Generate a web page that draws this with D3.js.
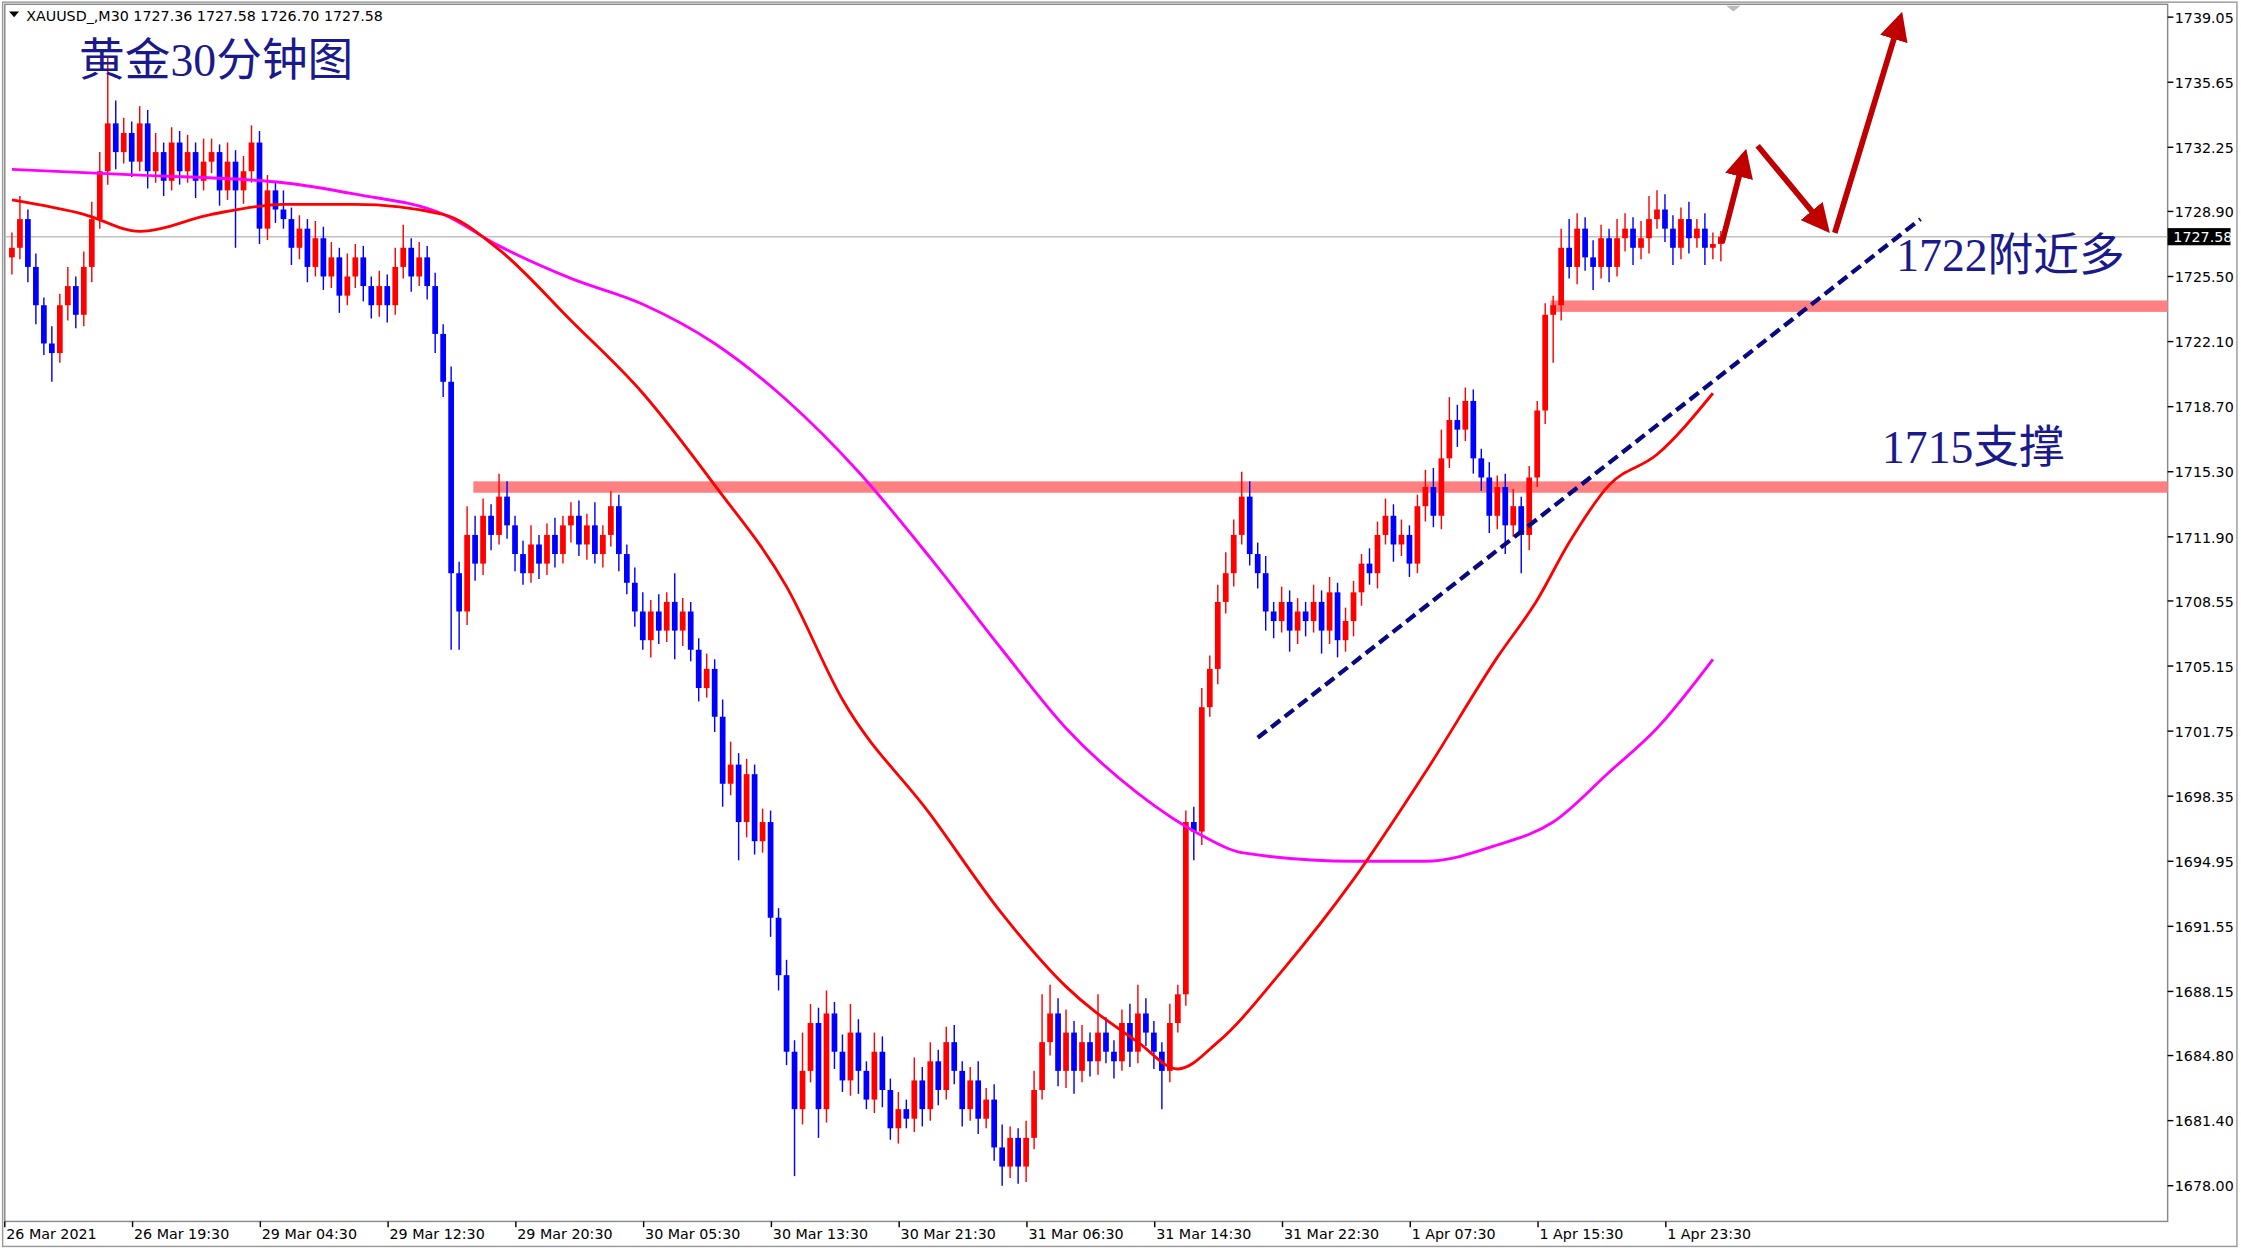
<!DOCTYPE html><html><head><meta charset="utf-8"><script src="https://cdn.jsdelivr.net/npm/d3@7"></script>
<style>body{margin:0;background:#fff}svg{display:block}</style></head><body><svg id="c" width="2241" height="1250" viewBox="0 0 1568 875"></svg>
<script>
const closes=[1727,1728.5,1726,1724,1722,1721.5,1724,1725,1723.5,1726,1728.5,
1731,1733.5,1732,1733,1731.5,1733.5,
1731,1732,1730.5,1732.5,1731,1732,1730.5,1731.5,1732,1730,1731.5,1730,1731,1732.5,
1728,1730,1729,1728.5,1727,1728,1726,1727.5,1725.5,1726.5,1724.5,1725.5,1726.5,1725,1724,
1725,1724,1726,1727,1725.5,1726.5,1725,1722.5,
1720,1710,1708,
1712,1710.5,1713,1712,1714,1712.5,1711,1710,1711.5,1710.5,1712,1711,1712.5,1713,1711.5,1712.5,1711,1712,1713.5,1711,
1709.5,1708,1706.5,1708,1707,1708.5,1707,1708,1706,1704,1705,1702.5,
1699,1700,1697,1699.5,1696,1697,1692,1689,1685,1682,
1684,1686.5,1682,1687,1685,1683.5,1686,1684,1682.5,1685,1683,1681,1682,1681.5,1683.5,1682,1684.5,1683,1685.5,1684,1682,1683.5,1681.5,1682.5,1680,1679,1680.5,1679,1680.5,1683,1685.5,1687,1684,
1686,1684,1685.5,1684.5,1686,1685,1684.5,1686.5,1685,1687,1686,1685,1684,1686.5,1688,
1697,1696.5,1703,1705,1708.5,1710,1712,1714,1711,
1710,1708,1707.5,1708.5,1707,1708,1707.5,1708.5,1707,1709,1706.5,1707.5,1709,
1710.5,1710,1712,1713,1711.5,1712,1710.5,1713.5,1714.5,1713,1716,1718,1717.5,1719,1716,1715,
1713,1714.5,1712.5,1713.5,1712,1715,
1718.5,1723.5,1724,
1727,1726,1728,1726.5,1726,1727.5,1726,1727.5,1728,1727,1727.5,1728.5,1729,1728,1727,1728.5,1727.5,1728,1727,1727.2,1727.58];
const firstOpen=1726.5;
const wickUp=[0.8,1.2,0.5,0.7,0.4,0.9,0.6,1.0,0.5,0.8,0.9, 1.0,3.5,1.2,0.8,0.6,0.9, 0.7,1.0,0.5,0.8,0.6,0.9,0.5,1.2,0.7,0.4,1.0,0.6,0.8,0.9,
0.6,0.8,0.5,1.0,0.6,0.7,0.5,0.9,0.6,0.8,0.5,1.2,0.7,0.6,0.5, 0.8,0.6,1.0,1.2,0.5,0.8,0.6,0.7, 0.5,0.8,0.6,
1.5,1.0,0.9,0.6,1.2,0.8,0.5,0.7,1.0,0.5,0.6,0.9,0.5,0.7,0.8,0.6,1.2,0.5,0.8,0.6,
0.5,0.8,1.0,0.6,0.9,0.5,1.5,0.7,0.5,0.6,0.8,0.5, 0.9,1.2,0.6,0.8,0.5,0.7,0.6,0.5,0.8,0.6,
2.0,1.0,0.8,1.2,0.6,0.9,1.5,0.7,0.5,1.0,0.8,0.6,0.9,0.5,1.2,0.7,1.0,0.6,0.8,0.9,0.5,0.7,1.0,0.6,0.8,1.2,0.6,0.5,0.9,1.0,2.5,1.5,0.8,
1.2,0.6,0.9,0.5,2.0,0.8,0.6,0.7,1.0,1.5,0.8,0.6,0.5,1.0,0.5,
0.6,0.8,1.0,0.7,0.9,1.1,0.8,1.3,0.8, 0.6,0.9,0.5,0.8,0.6,0.7,0.5,0.9,0.6,0.8,0.5,0.7,0.6,
0.5,0.8,0.7,0.9,0.6,0.8,0.5,0.6,0.9,1.0,1.5,1.2,0.8,0.7,0.6,0.5, 0.8,0.6,0.7,0.9,0.5,0.6, 0.5,0.6,0.5,
1.0,1.5,0.8,0.6,0.9,0.7,0.5,1.0,0.8,0.6,0.9,1.2,1.0,0.8,0.7,0.6,0.9,0.5,0.8,0.6,0.3];
const wickDn=[0.9,0.6,0.8,1.0,0.6,1.5,0.5,0.8,0.7,0.6,0.8, 0.5,0.7,0.9,0.6,0.8,0.5, 0.9,0.6,0.8,0.5,0.7,0.6,0.9,0.5,0.6,0.8,0.5,3.0,0.7,0.6,
0.8,0.6,0.7,0.5,0.9,0.6,0.8,0.5,0.7,0.6,0.9,0.5,0.6,0.8,0.7, 0.6,0.9,0.5,0.6,0.8,0.5,0.7,1.0, 0.8,4.0,2.0,
0.7,0.9,0.6,0.8,0.5,0.7,0.9,0.6,0.5,0.8,0.6,0.7,0.5,0.9,0.6,0.8,0.5,0.7,0.6,0.9,
0.6,0.8,0.5,0.9,0.7,0.6,1.5,0.8,0.6,0.7,0.5,0.8, 1.2,0.6,2.0,0.8,0.7,0.6,1.0,0.8,0.7,3.5,
0.8,0.6,1.5,0.7,0.9,0.6,0.8,1.2,0.5,0.7,0.9,0.6,0.8,0.5,0.7,0.9,0.6,0.8,0.5,0.7,0.9,0.6,0.8,0.5,0.7,1.0,0.6,0.9,0.8,0.6,0.5,0.7,0.8,
0.9,1.2,0.6,0.8,0.7,0.6,0.9,0.5,0.8,0.6,0.7,0.9,2.0,0.6,0.5,
0.6,1.5,0.7,0.5,0.8,0.6,0.7,0.5,0.6, 0.8,1.0,0.9,0.6,1.1,0.7,0.8,0.6,1.2,0.7,0.9,0.6,0.8,
0.7,0.6,0.8,0.5,0.9,0.6,0.7,0.5,0.8,0.6,0.7,0.5,0.9,0.6,0.8,0.7, 0.9,0.7,1.5,0.6,2.0,0.8, 0.5,0.7,2.5,
0.8,0.6,0.9,0.7,1.2,0.6,0.8,0.5,0.7,0.9,0.6,0.8,0.5,0.7,0.9,0.6,0.8,0.5,0.9,0.6,0.9];
const maFastIdx=[0,9,16,25,34,43,54,61,70,79,88,97,104,115,124,132,141,146,151,159,168,177,186,191,195,200,206,213];
const maFastVal=[1729.5,1728.75,1727.86,1728.75,1729.27,1729.27,1728.75,1726.9,1723.2,1719.4,1714.6,1709.3,1703.4,1697.4,1692.2,1688.4,1685.5,1684.1,1685.5,1689.2,1694.0,1699.6,1705.6,1708.6,1711.6,1714.6,1716.2,1719.4];
const maSlowIdx=[0,16,34,43,54,61,70,79,88,97,106,115,124,132,141,149,154,168,177,186,193,200,206,213];
const maSlowVal=[1731.1,1730.8,1730.4,1729.8,1728.75,1727.1,1725.4,1724.05,1722.0,1719.05,1715.3,1710.8,1706.0,1701.9,1698.5,1696.3,1695.4,1694.95,1694.95,1695.8,1697.0,1699.6,1701.9,1705.5];
const yTicks=["1739.05","1735.65","1732.25","1728.90","1725.50","1722.10","1718.70","1715.30","1711.90","1708.55","1705.15","1701.75","1698.35","1694.95","1691.55","1688.15","1684.80","1681.40","1678.00"];
const xLabels=["26 Mar 2021","26 Mar 19:30","29 Mar 04:30","29 Mar 12:30","29 Mar 20:30","30 Mar 05:30","30 Mar 13:30","30 Mar 21:30","31 Mar 06:30","31 Mar 14:30","31 Mar 22:30","1 Apr 07:30","1 Apr 15:30","1 Apr 23:30"];
const xLabelIdx=[0,16,32,48,64,80,96,112,128,144,160,176,192,208];
const levels=[1714.5,1723.95];
const last=1727.58;

const svg=d3.select("#c");
const x=d3.scaleLinear().domain([0,214]).range([8,8+5.59*214]);
const y=d3.scaleLinear().domain([1678.00,1739.05]).range([830,12]);
const font="Tahoma, 'DejaVu Sans', sans-serif";
svg.append("rect").attr("x",1.5).attr("y",1.5).attr("width",1564).attr("height",871).attr("fill","none").attr("stroke","#999");
svg.append("rect").attr("x",3).attr("y",3).attr("width",1514).attr("height",852).attr("fill","none").attr("stroke","#888");
svg.append("rect").attr("x",331).attr("width",1517-331).attr("y",y(levels[0])-4).attr("height",8).attr("fill","#ff8080");
svg.append("rect").attr("x",1085).attr("width",1517-1085).attr("y",y(levels[1])-4).attr("height",8).attr("fill","#ff8080");
svg.append("line").attr("x1",3).attr("x2",1517).attr("y1",y(last)).attr("y2",y(last)).attr("stroke","#c0c0c0");
const bars=closes.map((c,i)=>{const o=i?closes[i-1]:firstOpen;return{i,o,c,h:Math.max(o,c)+wickUp[i],l:Math.min(o,c)-wickDn[i]};});
const g=svg.append("g");
bars.forEach(b=>{const col=b.c>=b.o?"#ff0000":"#0000ff";
 g.append("line").attr("x1",x(b.i)).attr("x2",x(b.i)).attr("y1",y(b.h)).attr("y2",y(b.l)).attr("stroke",col).attr("stroke-width",1);
 const t=y(Math.max(b.o,b.c)),bt=y(Math.min(b.o,b.c));
 g.append("rect").attr("x",x(b.i)-2).attr("width",4).attr("y",t).attr("height",Math.max(1,bt-t)).attr("fill",col);});
const line=d3.line().x(d=>x(d[0])).y(d=>y(d[1])).curve(d3.curveMonotoneX);
svg.append("path").attr("d",line(maSlowIdx.map((d,i)=>[d,maSlowVal[i]]))).attr("fill","none").attr("stroke","#ff00ff").attr("stroke-width",2);
svg.append("path").attr("d",line(maFastIdx.map((d,i)=>[d,maFastVal[i]]))).attr("fill","none").attr("stroke","#ff0000").attr("stroke-width",2);
svg.append("line").attr("x1",x(156)).attr("y1",y(1701.4)).attr("x2",x(239)).attr("y2",y(1728.5)).attr("stroke","#0a0a80").attr("stroke-width",3).attr("stroke-dasharray","8,4");
const defs=svg.append("defs");
defs.append("marker").attr("id","ah").attr("viewBox","0 0 10 10").attr("refX",8).attr("refY",5).attr("markerWidth",5).attr("markerHeight",5).attr("orient","auto")
 .append("path").attr("d","M0,0L10,5L0,10z").attr("fill","#c00000");
[[[1205,170],[1221,108]],[[1230,102],[1278,160]],[[1284,163],[1330,12]]].forEach(a=>{
 svg.append("line").attr("x1",a[0][0]).attr("y1",a[0][1]).attr("x2",a[1][0]).attr("y2",a[1][1]).attr("stroke","#c00000").attr("stroke-width",4).attr("marker-end","url(#ah)");});
const serif="'Liberation Serif','Noto Sans CJK SC',serif";
svg.append("text").attr("x",55).attr("y",53).attr("font-family",serif).attr("font-size",32).attr("fill","#1a1a8c").text("黄金30分钟图");
svg.append("text").attr("x",1327).attr("y",190).attr("font-family",serif).attr("font-size",32).attr("fill","#1a1a8c").text("1722附近多");
svg.append("text").attr("x",1317).attr("y",324).attr("font-family",serif).attr("font-size",32).attr("fill","#1a1a8c").text("1715支撑");
svg.append("text").attr("x",18).attr("y",15).attr("font-family",font).attr("font-size",10).attr("fill","#000").text("XAUUSD_,M30  1727.36 1727.58 1726.70 1727.58");
svg.append("path").attr("d","M6,8L13,8L9.5,12z").attr("fill","#000");
svg.append("path").attr("d","M1208,4L1218,4L1213,8z").attr("fill","#bbb");
yTicks.forEach(t=>{const v=+t;svg.append("line").attr("x1",1517).attr("x2",1521).attr("y1",y(v)).attr("y2",y(v)).attr("stroke","#000");
 svg.append("text").attr("x",1522).attr("y",y(v)+4).attr("font-family",font).attr("font-size",10).attr("fill","#000").text(t);});
svg.append("rect").attr("x",1517).attr("y",y(last)-6).attr("width",44).attr("height",12).attr("fill","#000");
svg.append("text").attr("x",1521).attr("y",y(last)+4).attr("font-family",font).attr("font-size",10).attr("fill","#fff").text(last.toFixed(2));
xLabelIdx.forEach((b,i)=>{const px=i===0?3:x(b)-5;svg.append("line").attr("x1",x(b)-5).attr("x2",x(b)-5).attr("y1",855).attr("y2",859).attr("stroke","#000");
 svg.append("text").attr("x",px+1).attr("y",867).attr("font-family",font).attr("font-size",10).attr("fill","#000").text(xLabels[i]);});
</script></body></html>
